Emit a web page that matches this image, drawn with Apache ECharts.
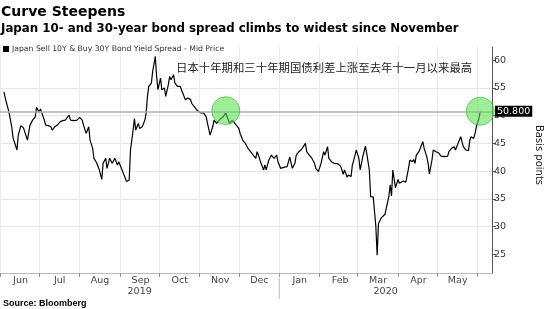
<!DOCTYPE html>
<html>
<head>
<meta charset="utf-8">
<script src="https://cdn.jsdelivr.net/npm/echarts@6/dist/echarts.min.js"></script>
<style>
html, body { margin: 0; padding: 0; background: #fff; }
#container { width: 552px; height: 309px; }
</style>
</head>
<body>
<div id="container"></div>
<script>
var dates = [
  '2019-06-04','2019-06-05','2019-06-06','2019-06-08','2019-06-10','2019-06-11','2019-06-14','2019-06-15',
  '2019-06-17','2019-06-19','2019-06-22','2019-06-24','2019-06-26','2019-06-27','2019-06-28','2019-06-29',
  '2019-07-01','2019-07-02','2019-07-03','2019-07-05','2019-07-06','2019-07-08','2019-07-10','2019-07-11',
  '2019-07-13','2019-07-15','2019-07-17','2019-07-19','2019-07-21','2019-07-24','2019-07-25','2019-07-28','2019-07-30',
  '2019-08-01','2019-08-03','2019-08-04','2019-08-06','2019-08-08','2019-08-09','2019-08-11','2019-08-12',
  '2019-08-14','2019-08-16','2019-08-18','2019-08-19','2019-08-21','2019-08-22','2019-08-24','2019-08-26',
  '2019-08-28','2019-08-30','2019-08-31',
  '2019-09-02','2019-09-03','2019-09-05','2019-09-06','2019-09-08','2019-09-09','2019-09-11','2019-09-12',
  '2019-09-13','2019-09-15','2019-09-16','2019-09-18','2019-09-20','2019-09-21','2019-09-22','2019-09-23',
  '2019-09-25','2019-09-26','2019-09-28','2019-09-29','2019-09-30',
  '2019-10-02','2019-10-03','2019-10-05','2019-10-06','2019-10-08','2019-10-09','2019-10-10','2019-10-12',
  '2019-10-13','2019-10-15','2019-10-17','2019-10-19','2019-10-21','2019-10-23','2019-10-25','2019-10-26',
  '2019-10-28','2019-10-30','2019-10-31',
  '2019-11-02','2019-11-04','2019-11-06','2019-11-07','2019-11-09','2019-11-11','2019-11-12','2019-11-14',
  '2019-11-16','2019-11-19','2019-11-21','2019-11-22','2019-11-24','2019-11-26','2019-11-27','2019-11-29',
  '2019-12-01','2019-12-02','2019-12-04','2019-12-06','2019-12-08','2019-12-10','2019-12-12','2019-12-14',
  '2019-12-15','2019-12-16','2019-12-18','2019-12-20','2019-12-21','2019-12-22','2019-12-24','2019-12-26',
  '2019-12-28','2019-12-30','2019-12-31',
  '2020-01-02','2020-01-05','2020-01-07','2020-01-09','2020-01-11','2020-01-13','2020-01-14','2020-01-16',
  '2020-01-18','2020-01-19','2020-01-21','2020-01-22','2020-01-24','2020-01-26','2020-01-28','2020-01-29','2020-01-31',
  '2020-02-01','2020-02-02','2020-02-04','2020-02-05','2020-02-07','2020-02-08','2020-02-10','2020-02-12',
  '2020-02-15','2020-02-17','2020-02-18','2020-02-19','2020-02-20','2020-02-22','2020-02-23','2020-02-25',
  '2020-02-26','2020-02-27','2020-02-28','2020-02-29',
  '2020-03-02','2020-03-03','2020-03-05','2020-03-07','2020-03-08','2020-03-10','2020-03-11','2020-03-13',
  '2020-03-14','2020-03-15','2020-03-16','2020-03-17','2020-03-19','2020-03-22','2020-03-23','2020-03-25',
  '2020-03-26','2020-03-27','2020-03-28','2020-03-30',
  '2020-04-01','2020-04-02','2020-04-05','2020-04-07','2020-04-09','2020-04-10','2020-04-12','2020-04-13',
  '2020-04-14','2020-04-15','2020-04-17','2020-04-19','2020-04-20','2020-04-21','2020-04-23','2020-04-24',
  '2020-04-25','2020-04-27','2020-04-28','2020-04-30',
  '2020-05-02','2020-05-04','2020-05-07','2020-05-09','2020-05-10','2020-05-12','2020-05-14','2020-05-15',
  '2020-05-17','2020-05-19','2020-05-20','2020-05-21','2020-05-23','2020-05-25','2020-05-26','2020-05-27',
  '2020-05-29','2020-05-30','2020-05-31',
  '2020-06-02','2020-06-03'
];

var spread = [
  54.3,53.2,52.3,50.5,48.0,46.0,43.8,46.5,
  48.2,47.8,45.6,48.3,49.2,49.1,49.8,51.5,
  50.6,51.2,51.0,49.2,48.3,48.2,48.0,47.4,
  48.0,48.3,48.9,49.1,49.2,50.1,49.2,49.1,49.2,
  49.7,49.2,48.3,46.8,48.0,45.6,44.1,42.3,
  41.5,40.3,38.5,41.4,42.3,40.5,42.3,41.4,
  42.3,41.1,41.7,
  40.5,39.9,38.7,38.1,38.4,43.8,47.4,49.5,
  47.4,48.6,47.7,48.0,49.2,50.5,53.5,55.3,
  55.9,58.0,60.7,57.1,54.7,
  56.8,54.7,55.0,53.5,55.6,57.1,56.5,57.4,
  55.9,55.3,55.3,54.1,52.9,53.2,52.9,52.2,
  51.6,51.0,50.7,
  50.5,50.5,49.8,48.6,46.5,48.0,49.2,48.6,
  49.2,49.8,50.5,50.7,48.6,49.2,49.5,48.3,
  47.7,46.8,45.6,45.0,44.1,43.5,42.9,42.3,
  43.5,42.9,41.4,40.2,41.1,40.2,42.0,42.9,
  42.3,42.9,41.7,
  40.5,40.7,40.8,42.5,40.5,41.4,42.9,43.5,
  43.9,43.7,45.0,43.5,42.9,42.3,41.4,40.5,39.9,
  39.6,41.4,43.5,42.9,44.4,42.3,41.7,41.4,
  41.3,40.9,40.2,39.4,40.2,38.9,39.3,39.0,
  41.1,41.9,41.7,43.8,
  42.3,40.2,42.6,44.5,43.2,40.2,35.4,35.3,
  35.1,30.0,24.8,30.5,31.5,32.2,32.5,35.5,
  37.5,35.5,40.2,37.0,
  38.5,37.8,38.2,38.0,40.5,42.0,41.7,42.1,
  41.4,42.9,43.5,44.7,45.3,44.1,42.6,41.5,
  39.5,42.0,43.8,43.5,
  43.3,42.7,42.6,42.7,43.5,44.1,44.4,43.8,
  45.0,46.2,45.3,44.4,43.8,43.7,45.6,46.2,
  45.9,46.8,48.0,
  49.5,50.8
];

var yTicks = [25, 30, 35, 40, 45, 50, 55, 60];
var monthNames = ['Jan','Feb','Mar','Apr','May','Jun','Jul','Aug','Sep','Oct','Nov','Dec'];
var refLevel = 50.8;
var highlights = [['2019-11-21', 50.9], ['2020-06-03', 50.8]];
var yearLabels = [['2019', '2019-06-01', '2020-01-01'], ['2020', '2020-01-01', '2020-06-12']];
var seriesName = 'Japan Sell 10Y & Buy 30Y Bond Yield Spread - Mid Price';
var note = '日本十年期和三十年期国债利差上涨至去年十一月以来最高';

var myChart = echarts.init(document.getElementById('container'));

var option = {
  animation: false,
  backgroundColor: '#fff',
  title: [
    {
      text: 'Curve Steepens',
      left: 1, top: 5, padding: 0,
      textStyle: { fontFamily: 'DejaVu Sans', fontSize: 14, fontWeight: 'bold', color: '#000' }
    },
    {
      text: 'Japan 10- and 30-year bond spread climbs to widest since November',
      left: 1, top: 23, padding: 0,
      textStyle: { fontFamily: 'DejaVu Sans', fontSize: 11.8, fontWeight: 'bold', color: '#000' }
    }
  ],
  legend: {
    left: 3, top: 45, padding: 0,
    icon: 'rect', itemWidth: 6, itemHeight: 6,
    textStyle: { fontFamily: 'DejaVu Sans', fontSize: 7.7, color: '#333', padding: [0, 0, 0, -2] },
    data: [seriesName]
  },
  grid: { left: -4, right: 54, top: 47, bottom: 36 },
  xAxis: {
    type: 'time',
    min: '2019-06-01',
    max: '2020-06-12',
    splitNumber: 12,
    axisLine: { show: true, lineStyle: { color: '#bbb' } },
    axisTick: { show: true, length: 4, lineStyle: { color: '#999' } },
    splitLine: { show: true, lineStyle: { color: '#ebebeb' } },
    axisLabel: {
      fontFamily: 'DejaVu Sans', fontSize: 9.5, color: '#444', margin: 3,
      padding: [0, 0, 0, 41],
      formatter: function (v) {
        var d = new Date(v);
        if (d.getFullYear() === 2020 && d.getMonth() === 5) return '';
        return monthNames[d.getMonth()];
      }
    }
  },
  yAxis: {
    type: 'value',
    position: 'right',
    min: 21.6,
    max: 62.4,
    splitNumber: 8,
    axisLine: { show: true, lineStyle: { color: '#555' } },
    axisTick: { show: true, length: 4, lineStyle: { color: '#555' }, customValues: yTicks },
    axisLabel: { customValues: yTicks, fontFamily: 'DejaVu Sans', fontSize: 9.5, color: '#333', margin: 2 },
    splitLine: { show: true, showMinLine: false, showMaxLine: false, lineStyle: { color: '#e6e6e6' } },
    name: 'Basis points',
    nameLocation: 'middle',
    nameRotate: -90,
    nameGap: 42,
    nameTextStyle: { fontFamily: 'DejaVu Sans', fontSize: 10, color: '#222', padding: [0, 10, 0, 0] }
  },
  series: [
    {
      name: seriesName,
      type: 'line',
      showSymbol: false,
      symbol: 'none',
      itemStyle: { color: '#000' },
      lineStyle: { color: '#000', width: 1.2 },
      data: dates.map(function (d, i) { return [d, spread[i]]; }),
      markLine: {
        silent: true,
        symbol: 'none',
        lineStyle: { color: '#b5acac', width: 1.5, type: 'solid' },
        label: {
          position: 'end', distance: 3,
          formatter: function (p) { return p.value.toFixed(3); },
          backgroundColor: '#000', color: '#fff',
          fontFamily: 'DejaVu Sans', fontSize: 9.5, padding: [1, 2, 0, 2]
        },
        data: [{ yAxis: refLevel }]
      },
      markPoint: {
        silent: true,
        symbol: 'circle',
        symbolSize: 28,
        itemStyle: { color: 'rgba(90,222,80,0.58)', borderColor: 'rgba(60,195,55,0.7)', borderWidth: 1 },
        label: { show: false },
        data: highlights.map(function (h) { return { coord: h }; })
      }
    }
  ],
  graphic: [
    {
      type: 'text', left: 176, top: 62, z: 100,
      style: { text: note, font: '11.4px "Noto Sans CJK SC"', fill: '#222' }
    },
    {
      type: 'text', left: 3, top: 299, z: 100,
      style: { text: 'Source: Bloomberg', font: 'bold 9px "Liberation Sans"', fill: '#000' }
    }
  ]
};

myChart.setOption(option);

// year labels under the months, and the year separator tick
var extra = [];
yearLabels.forEach(function (y) {
  var x0 = myChart.convertToPixel({ xAxisIndex: 0 }, y[1]);
  var x1 = myChart.convertToPixel({ xAxisIndex: 0 }, y[2]);
  extra.push({
    type: 'text', x: (x0 + x1) / 2, y: 292, z: 100,
    style: { text: y[0], font: '9.5px "DejaVu Sans"', fill: '#444', align: 'center', verticalAlign: 'middle' }
  });
});
var xSep = myChart.convertToPixel({ xAxisIndex: 0 }, yearLabels[1][1]);
extra.push({
  type: 'line', shape: { x1: xSep, y1: 278, x2: xSep, y2: 299 }, z: 100,
  style: { stroke: '#bbb', lineWidth: 1 }
});
myChart.setOption({ graphic: option.graphic.concat(extra) });
</script>
</body>
</html>
